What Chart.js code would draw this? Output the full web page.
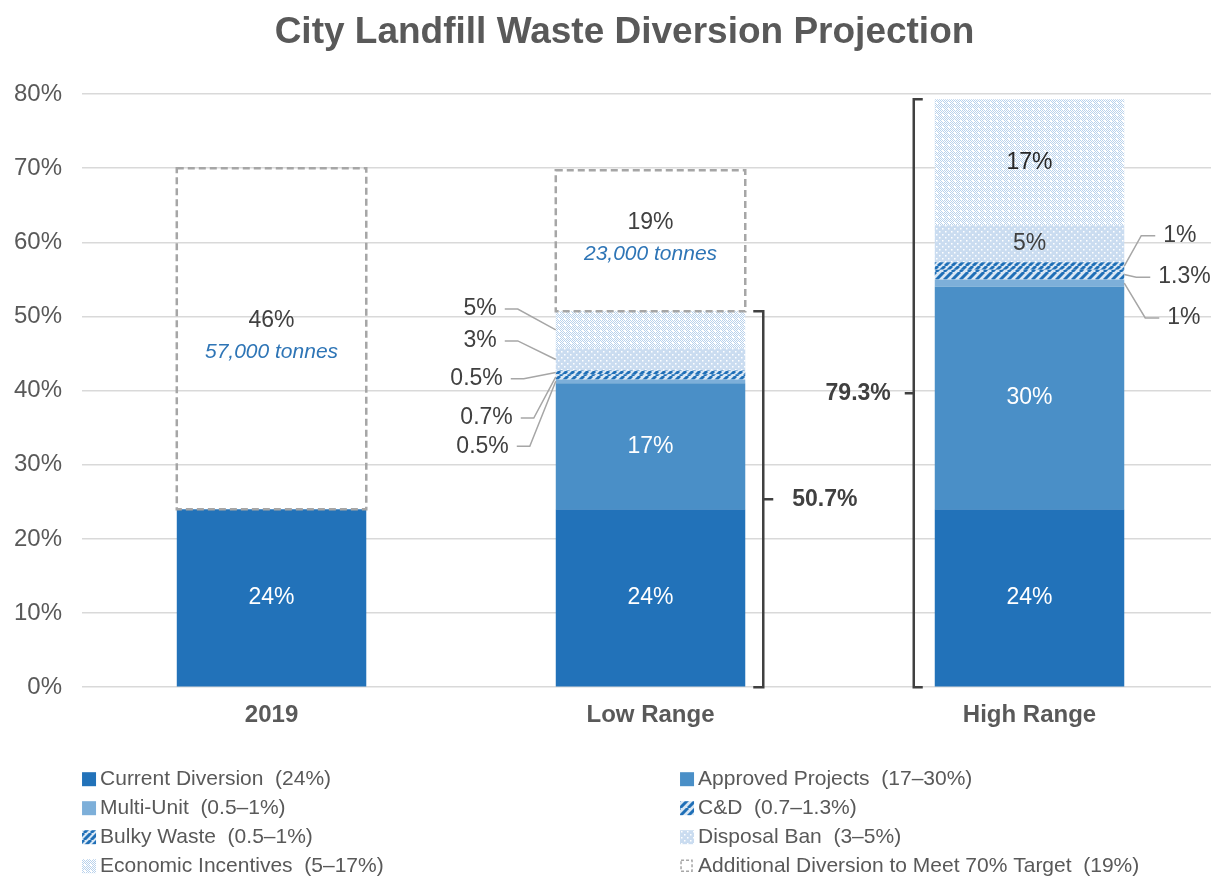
<!DOCTYPE html>
<html>
<head>
<meta charset="utf-8">
<title>City Landfill Waste Diversion Projection</title>
<script src="https://cdn.jsdelivr.net/npm/chart.js@4"></script>
<style>
    html, body { margin: 0; padding: 0; background: #fff; overflow: hidden; }
    /* the plot runs off the right edge of the picture, as in the original */
    #wrap { position: relative; width: 1219px; height: 881px; }
</style>
</head>
<body>
<div id="wrap"><canvas id="chart"></canvas></div>
<script>
// Data
const categories = ['2019', 'Low Range', 'High Range'];
const currentDiversion = [24, 24, 24];
const approvedProjects = [0, 17, 30];
const multiUnit = [0, 0.5, 1];
const cAndD = [0, 0.7, 1.3];
const bulkyWaste = [0, 0.5, 1];
const disposalBan = [0, 3, 5];
const economicIncentives = [0, 5, 17];
const additionalDiversion = [46, 19, 0];
const tonnesLabels = ['57,000 tonnes', '23,000 tonnes', ''];
const rangeTotals = [null, 50.7, 79.3];
const yTicks = [0, 10, 20, 30, 40, 50, 60, 70, 80];
const legendLabels = [
    'Current Diversion  (24%)',
    'Approved Projects  (17\u201330%)',
    'Multi-Unit  (0.5\u20131%)',
    'C&D  (0.7\u20131.3%)',
    'Bulky Waste  (0.5\u20131%)',
    'Disposal Ban  (3\u20135%)',
    'Economic Incentives  (5\u201317%)',
    'Additional Diversion to Meet 70% Target  (19%)'
];
const chartTitle = 'City Landfill Waste Diversion Projection';

const FONT = "'Liberation Sans', Arial, sans-serif";
const GREY_TEXT = '#595959';
const DARK_TEXT = '#404040';

// Fill patterns
function makePattern(size, draw) {
    const c = document.createElement('canvas');
    c.width = size;
    c.height = size;
    const g = c.getContext('2d');
    draw(g, size);
    return g.createPattern(c, 'repeat');
}

function stripes(bg, fg, size, width) {
    return makePattern(size, (g, s) => {
        g.fillStyle = bg;
        g.fillRect(0, 0, s, s);
        g.strokeStyle = fg;
        g.lineWidth = width;
        g.beginPath();
        for (let k = -s; k <= s; k += s) {
            g.moveTo(k, s);
            g.lineTo(k + s, 0);
        }
        g.stroke();
    });
}

const cdPattern = stripes('#d9e7f4', '#1f6fb7', 8, 3);
const bulkyPattern = stripes('#d9e7f4', '#1f6fb7', 7, 3);
const dotsPattern = makePattern(6, (g, s) => {
    g.fillStyle = '#cadcf0';
    g.fillRect(0, 0, s, s);
    g.fillStyle = '#ffffff';
    g.fillRect(0, 0, 1.5, 1.5);
    g.fillRect(3, 3, 1.5, 1.5);
});
const meshPattern = makePattern(6, (g, s) => {
    g.fillStyle = '#ffffff';
    g.fillRect(0, 0, s, s);
    g.fillStyle = '#b9d2ec';
    for (let x = 0; x < s; x++) {
        for (let y = 0; y < s; y++) {
            if ((x + y) % 2 === 0 && !(x < 2 && y < 2)) g.fillRect(x, y, 1, 1);
        }
    }
});

// Labels drawn on the bars: [dataset, category, colour]
const insideLabels = [
    [0, 0, '#ffffff'], [0, 1, '#ffffff'], [0, 2, '#ffffff'],
    [1, 1, '#ffffff'], [1, 2, '#ffffff'],
    [5, 2, DARK_TEXT], [6, 2, '#262626'],
    [7, 0, DARK_TEXT], [7, 1, DARK_TEXT]
];
// Labels beside the bars with leader lines: at = y position in %, dx = gap from the bar edge
const outsideLabels = [
    { d: 6, i: 1, side: 'left', at: 51.0, dx: 59 },
    { d: 5, i: 1, side: 'left', at: 46.7, dx: 59 },
    { d: 4, i: 1, side: 'left', at: 41.6, dx: 53 },
    { d: 3, i: 1, side: 'left', at: 36.3, dx: 43 },
    { d: 2, i: 1, side: 'left', at: 32.5, dx: 47 },
    { d: 4, i: 2, side: 'right', at: 60.9, dx: 39 },
    { d: 3, i: 2, side: 'right', at: 55.3, dx: 34 },
    { d: 2, i: 2, side: 'right', at: 49.8, dx: 43 }
];

function barBox(chart, d, i) {
    const p = chart.getDatasetMeta(d).data[i].getProps(['x', 'y', 'base', 'width'], true);
    return {
        left: p.x - p.width / 2,
        right: p.x + p.width / 2,
        top: Math.min(p.y, p.base),
        bottom: Math.max(p.y, p.base),
        cx: p.x,
        cy: (p.y + p.base) / 2
    };
}

const annotations = {
    id: 'annotations',
    afterDatasetsDraw(chart) {
        const ctx = chart.ctx;
        const yScale = chart.scales.y;
        ctx.save();

        // dashed target boxes
        ctx.strokeStyle = '#a6a6a6';
        ctx.lineWidth = 2.5;
        ctx.setLineDash([7, 4]);
        additionalDiversion.forEach((v, i) => {
            if (!v) return;
            const b = barBox(chart, 7, i);
            ctx.strokeRect(b.left, b.top, b.right - b.left, b.bottom - b.top);
        });
        ctx.setLineDash([]);

        // values inside bars
        ctx.textAlign = 'center';
        ctx.textBaseline = 'middle';
        insideLabels.forEach(([d, i, color]) => {
            const b = barBox(chart, d, i);
            const text = chart.data.datasets[d].data[i] + '%';
            ctx.fillStyle = color;
            ctx.font = '23px ' + FONT;
            if (d === 7) {
                ctx.fillText(text, b.cx, b.cy - 18);
                ctx.fillStyle = '#2e75b6';
                ctx.font = 'italic 21px ' + FONT;
                ctx.fillText(tonnesLabels[i], b.cx, b.cy + 13);
            } else {
                ctx.fillText(text, b.cx, b.cy);
            }
        });

        // values beside bars with leader lines
        ctx.font = '23px ' + FONT;
        ctx.fillStyle = DARK_TEXT;
        ctx.strokeStyle = '#a6a6a6';
        ctx.lineWidth = 1.5;
        outsideLabels.forEach(l => {
            const b = barBox(chart, l.d, l.i);
            const ty = yScale.getPixelForValue(l.at);
            const text = chart.data.datasets[l.d].data[l.i] + '%';
            ctx.beginPath();
            if (l.side === 'left') {
                const tx = b.left - l.dx;
                ctx.textAlign = 'right';
                ctx.fillText(text, tx, ty);
                ctx.moveTo(tx + 8, ty);
                ctx.lineTo(tx + 21, ty);
                ctx.lineTo(b.left, b.cy);
            } else {
                const tx = b.right + l.dx;
                ctx.textAlign = 'left';
                ctx.fillText(text, tx, ty);
                ctx.moveTo(tx - 8, ty);
                ctx.lineTo(tx - 22, ty);
                ctx.lineTo(b.right, b.cy);
            }
            ctx.stroke();
        });

        // range brackets
        ctx.strokeStyle = '#404040';
        ctx.lineWidth = 2.5;
        ctx.fillStyle = DARK_TEXT;
        ctx.font = 'bold 23px ' + FONT;
        rangeTotals.forEach((total, i) => {
            if (total === null) return;
            const b = barBox(chart, 0, i);
            const top = yScale.getPixelForValue(total);
            const bottom = yScale.getPixelForValue(0);
            const mid = (top + bottom) / 2;
            const onRight = i === 1;
            const x = onRight ? b.right + 18 : b.left - 21;
            const cap = onRight ? -10 : 9;
            ctx.beginPath();
            ctx.moveTo(x + cap, top);
            ctx.lineTo(x, top);
            ctx.lineTo(x, bottom);
            ctx.lineTo(x + cap, bottom);
            ctx.moveTo(x, mid);
            ctx.lineTo(x - cap, mid);
            ctx.stroke();
            ctx.textAlign = onRight ? 'left' : 'right';
            ctx.fillText(total + '%', onRight ? x + 29 : x - 23, mid);
        });
        ctx.restore();
    },
    afterDraw(chart) {
        const ctx = chart.ctx;
        const area = chart.chartArea;
        ctx.save();

        // title
        ctx.fillStyle = GREY_TEXT;
        ctx.font = 'bold 37px ' + FONT;
        ctx.textAlign = 'center';
        ctx.textBaseline = 'middle';
        ctx.fillText(chartTitle, chart.width / 2 + 15, 33);

        // legend, two columns
        ctx.font = '21px ' + FONT;
        ctx.textAlign = 'left';
        chart.data.datasets.forEach((ds, k) => {
            const x = area.left + (k % 2) * 598;
            const y = area.bottom + 92 + Math.floor(k / 2) * 29;
            if (k === 7) {
                ctx.fillStyle = '#ffffff';
                ctx.fillRect(x, y - 7, 13, 13);
                ctx.strokeStyle = '#a6a6a6';
                ctx.lineWidth = 1.5;
                ctx.setLineDash([3, 2]);
                ctx.strokeRect(x + 1, y - 6, 11, 11);
                ctx.setLineDash([]);
            } else {
                ctx.fillStyle = ds.backgroundColor;
                ctx.fillRect(x, y - 7, 14, 14);
            }
            ctx.fillStyle = GREY_TEXT;
            ctx.fillText(ds.label, x + 18, y);
        });
        ctx.restore();
    }
};

const fills = ['#2272b9', '#4a8fc7', '#7dafd9', cdPattern, bulkyPattern, dotsPattern, meshPattern, 'rgba(0,0,0,0)'];
const seriesData = [currentDiversion, approvedProjects, multiUnit, cAndD, bulkyWaste, disposalBan, economicIncentives, additionalDiversion];

const chart = new Chart(document.getElementById('chart').getContext('2d'), {
    type: 'bar',
    data: {
        labels: categories,
        datasets: seriesData.map((data, k) => ({
            label: legendLabels[k],
            data: data,
            backgroundColor: fills[k],
            borderWidth: 0,
            barPercentage: 0.5,
            categoryPercentage: 1.0
        }))
    },
    options: {
        responsive: true,
        maintainAspectRatio: false,
        animation: false,
        layout: {
            padding: { top: 94, left: -6, right: 0, bottom: 137 }
        },
        plugins: {
            legend: { display: false },
            title: { display: false },
            tooltip: { enabled: false }
        },
        scales: {
            x: {
                stacked: true,
                grid: { display: false, drawTicks: false },
                border: { display: false },
                ticks: {
                    color: GREY_TEXT,
                    font: { family: FONT, size: 24, weight: 'bold' },
                    padding: 14
                }
            },
            y: {
                stacked: true,
                min: 0,
                max: 80,
                afterBuildTicks: scale => {
                    scale.ticks = yTicks.map(v => ({ value: v }));
                },
                grid: { color: '#d9d9d9', lineWidth: 1.5, drawTicks: false },
                border: { display: false },
                ticks: {
                    color: GREY_TEXT,
                    font: { family: FONT, size: 24 },
                    padding: 20,
                    callback: v => v + '%'
                }
            }
        }
    },
    plugins: [annotations]
});
</script>
</body>
</html>
